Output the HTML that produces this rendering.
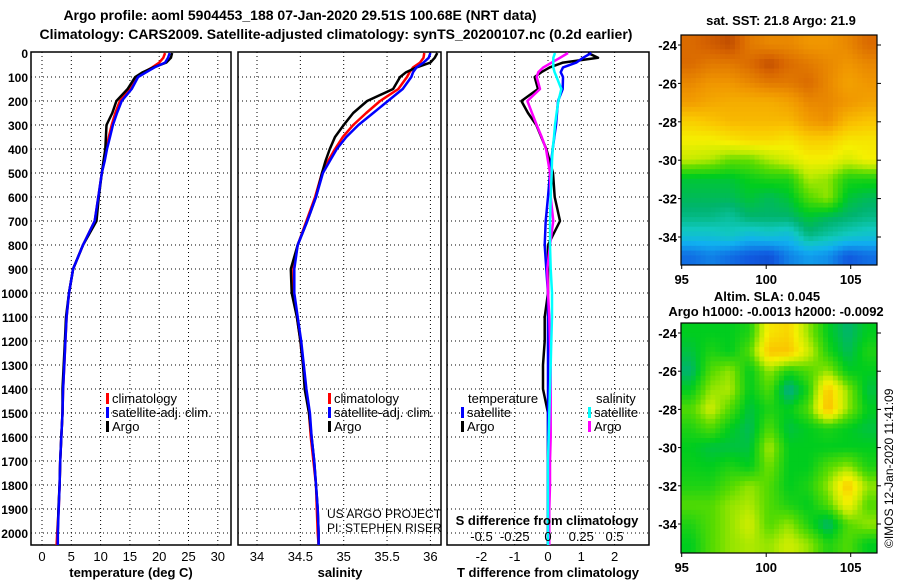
<!DOCTYPE html>
<html><head><meta charset="utf-8"><style>
body{margin:0;background:#fff;}
svg{display:block;font-family:"Liberation Sans",Arial,sans-serif;}
</style></head><body>
<svg id="fig" width="900" height="580" viewBox="0 0 900 580">
<text x="300" y="20" text-anchor="middle" font-weight="bold" font-size="14">Argo profile: aoml 5904453_188 07-Jan-2020 29.51S 100.68E (NRT data)</text>
<text x="336" y="39" text-anchor="middle" font-weight="bold" font-size="14">Climatology: CARS2009. Satellite-adjusted climatology: synTS_20200107.nc (0.2d earlier)</text>
<g id="g"></g>
</svg>
<script>
const depths=[0,20,40,60,80,100,150,200,250,300,350,400,450,500,600,700,800,900,1000,1100,1200,1300,1400,1500,1600,1700,1800,1900,2000,2050];
const tempClim=[21.0,20.7,20.0,18.8,17.4,16.2,15.0,13.3,12.5,11.9,11.4,11.0,10.6,10.2,9.6,9.0,7.0,5.3,4.6,4.2,4.0,3.8,3.6,3.5,3.3,3.1,3.0,2.85,2.6,2.5];
const tempSat=[21.8,21.5,21.0,19.2,17.8,16.4,15.3,13.6,12.8,12.1,11.6,11.1,10.7,10.2,9.6,9.0,7.0,5.3,4.6,4.2,4.0,3.8,3.6,3.5,3.3,3.1,3.0,2.85,2.7,2.7];
const tempArgo=[22.2,22.0,21.2,19.0,17.2,15.9,14.6,12.7,12.0,11.0,10.9,10.8,10.5,10.2,9.7,9.3,7.0,5.3,4.6,4.1,3.9,3.7,3.5,3.5,3.3,3.1,3.0,2.8,2.7,2.7];
const salClim=[35.93,35.92,35.88,35.80,35.76,35.73,35.63,35.42,35.26,35.11,34.99,34.90,34.82,34.75,34.67,34.57,34.47,34.42,34.42,34.46,34.50,34.53,34.56,34.60,34.62,34.65,34.68,34.69,34.70,34.71];
const salSat=[36.0,35.98,35.92,35.84,35.80,35.78,35.68,35.51,35.34,35.17,35.03,34.92,34.84,34.76,34.68,34.58,34.47,34.43,34.43,34.47,34.51,34.54,34.57,34.61,34.63,34.66,34.68,34.70,34.71,34.71];
const salArgo=[36.08,36.05,36.0,35.84,35.72,35.65,35.57,35.27,35.11,35.0,34.90,34.84,34.79,34.75,34.68,34.58,34.47,34.39,34.40,34.46,34.50,34.53,34.55,34.60,34.63,34.66,34.68,34.70,34.71,34.71];
const dTsat=[1.3,1.05,0.85,0.45,0.38,0.45,0.44,0.3,0.27,0.24,0.19,0.14,0.1,0.06,0.0,-0.07,-0.1,-0.05,0,0,0,0,0,0,0,0,0,0,0,0];
const dTargo=[1.2,1.5,0.45,0.05,-0.2,-0.4,-0.3,-0.8,-0.6,-0.35,-0.2,-0.05,0.05,0.15,0.2,0.36,0,0,0,-0.1,-0.1,-0.15,-0.15,0,0,0,0,0,0,0];
const dSsat=[0.053,0.04,0.04,0.04,0.05,0.065,0.1,0.078,0.065,0.053,0.045,0.035,0.03,0.028,0.02,0.015,0.015,0.02,0.03,0.03,0.025,0.02,0.015,0.01,0.005,0.0,0.0,0.0,0.0,0.0];
const dSargo=[0.15,0.09,0.028,-0.035,-0.073,-0.085,-0.06,-0.155,-0.12,-0.085,-0.047,-0.015,0.0,0.015,0.02,0.04,0.015,-0.005,0.0,0.01,0.015,0.02,0.02,0.02,0.02,0.015,0.015,0.01,0.01,0.01];
const depthTicks=[0,100,200,300,400,500,600,700,800,900,1000,1100,1200,1300,1400,1500,1600,1700,1800,1900,2000];
const tempTicks=[0,5,10,15,20,25,30];
const salTicks=[34,34.5,35,35.5,36];
const salTickLabels=["34","34.5","35","35.5","36"];
const dTTicks=[-2,-1,0,1,2];
const dSTicks=[-0.5,-0.25,0,0.25,0.5];
const dSTickLabels=["-0.5","-0.25","0","0.25","0.5"];
const lonTicks=[95,100,105];
const latTicks=[-24,-26,-28,-30,-32,-34];
const sstGrid=[
[0.92,0.94,0.96,0.9,0.88,0.88,0.86,0.86,0.88,0.92],
[0.92,0.9,0.9,0.92,0.96,0.92,0.9,0.88,0.86,0.88],
[0.88,0.86,0.86,0.88,0.9,0.9,0.92,0.88,0.84,0.86],
[0.85,0.83,0.82,0.82,0.82,0.84,0.88,0.88,0.86,0.84],
[0.76,0.78,0.8,0.8,0.8,0.8,0.85,0.87,0.8,0.78],
[0.7,0.7,0.72,0.74,0.74,0.72,0.76,0.76,0.72,0.72],
[0.64,0.62,0.57,0.57,0.62,0.66,0.7,0.7,0.66,0.7],
[0.45,0.45,0.45,0.48,0.5,0.5,0.62,0.6,0.5,0.5],
[0.42,0.42,0.42,0.45,0.42,0.45,0.55,0.6,0.45,0.42],
[0.38,0.38,0.36,0.4,0.4,0.4,0.45,0.42,0.4,0.38],
[0.3,0.3,0.32,0.28,0.3,0.28,0.38,0.35,0.32,0.3],
[0.15,0.18,0.15,0.12,0.1,0.18,0.22,0.2,0.12,0.15]];
const slaGrid=[
[0.47,0.47,0.47,0.5,0.72,0.75,0.6,0.47,0.4,0.47],
[0.44,0.5,0.47,0.55,0.78,0.78,0.65,0.5,0.42,0.5],
[0.4,0.55,0.6,0.47,0.6,0.5,0.55,0.6,0.47,0.47],
[0.47,0.6,0.62,0.47,0.55,0.37,0.5,0.78,0.6,0.44],
[0.55,0.65,0.55,0.44,0.5,0.47,0.55,0.8,0.6,0.47],
[0.5,0.55,0.47,0.42,0.55,0.44,0.47,0.5,0.47,0.44],
[0.47,0.44,0.44,0.44,0.62,0.47,0.47,0.47,0.47,0.47],
[0.48,0.47,0.5,0.47,0.58,0.47,0.47,0.55,0.6,0.5],
[0.5,0.5,0.55,0.6,0.55,0.47,0.5,0.6,0.78,0.6],
[0.55,0.55,0.6,0.62,0.55,0.5,0.47,0.55,0.7,0.55],
[0.5,0.55,0.6,0.65,0.55,0.6,0.5,0.4,0.55,0.6],
[0.47,0.55,0.6,0.62,0.6,0.65,0.6,0.5,0.55,0.47]];

const NS="http://www.w3.org/2000/svg";
const G=document.getElementById('g');
function mk(tag,attrs,parent,txt){const e=document.createElementNS(NS,tag);for(const k in attrs)e.setAttribute(k,attrs[k]);if(txt!==undefined)e.textContent=txt;(parent||G).appendChild(e);return e;}
const PT=52,PB=545;
const yD=d=>53+d*0.24;
const xT=t=>42+t*5.86;
const xS=s=>257+(s-34)*86.7;
const xdT=t=>548+t*33.3;
const xdS=s=>548+s*133;

function panel(name,x0,x1,vt,xf){
  const g=mk('g',{});
  
  
  depthTicks.forEach(d=>{const y=yD(d);if(y>PT+1&&y<PB)mk('line',{x1:x0,x2:x1,y1:y,y2:y,stroke:'#000','stroke-width':1,'stroke-dasharray':'1,3'},g);});
  vt.forEach(v=>{const x=xf(v);mk('line',{x1:x,x2:x,y1:PT,y2:PB,stroke:'#000','stroke-width':1,'stroke-dasharray':'1,3'},g);});
  const r=mk('rect',{x:x0,y:PT,width:x1-x0,height:PB-PT,fill:'none',stroke:'#000','stroke-width':1.5},g);
  
  
  return g;
}
function line(g,name,xs,xf,color,w){
  let d='';xs.forEach((v,i)=>{d+=(i?'L':'M')+xf(v).toFixed(1)+','+yD(depths[i]).toFixed(1);});
  const p=mk('path',{d:d,fill:'none',stroke:color,'stroke-width':w||2.5,'stroke-linejoin':'round'},g);
  
  
}
function txt(x,y,s,opt,name){
  const t=mk('text',Object.assign({x:x,y:y,'font-size':13,'font-weight':'bold'},opt||{}),G,s);
  
  
  return t;
}
const p1=panel('temperature-panel',31,231,tempTicks,xT);
line(p1,'temp-climatology-line',tempClim,xT,'#f00');
line(p1,'temp-argo-line',tempArgo,xT,'#000');
line(p1,'temp-satellite-line',tempSat,xT,'#00f');
depthTicks.forEach(d=>txt(28,yD(d)+5,String(d),{'text-anchor':'end','font-size':12},'depth-tick-label'));
tempTicks.forEach(v=>txt(xT(v),561,String(v),{'text-anchor':'middle','font-weight':'normal'},'temp-tick-label'));
txt(131,577,'temperature (deg C)',{'text-anchor':'middle'},'x-axis-title-temperature');
const p2=panel('salinity-panel',238,441,salTicks,xS);
line(p2,'sal-climatology-line',salClim,xS,'#f00');
line(p2,'sal-argo-line',salArgo,xS,'#000');
line(p2,'sal-satellite-line',salSat,xS,'#00f');
salTicks.forEach((v,i)=>txt(xS(v),561,salTickLabels[i],{'text-anchor':'middle','font-weight':'normal'},'sal-tick-label'));
txt(340,577,'salinity',{'text-anchor':'middle'},'x-axis-title-salinity');
const p3=panel('difference-panel',447,649,dTTicks,xdT);
line(p3,'dT-argo-line',dTargo,xdT,'#000');
line(p3,'dT-satellite-line',dTsat,xdT,'#00f');
line(p3,'dS-argo-line',dSargo,xdS,'#f0f');
line(p3,'dS-satellite-line',dSsat,xdS,'#0ff');
dTTicks.forEach(v=>txt(xdT(v),561,String(v),{'text-anchor':'middle','font-weight':'normal'},'dT-tick-label'));
txt(548,577,'T difference from climatology',{'text-anchor':'middle'},'x-axis-title-T-difference');
txt(547,525,'S difference from climatology',{'text-anchor':'middle'},'s-axis-title');
dSTicks.forEach((v,i)=>txt(xdS(v),541,dSTickLabels[i],{'text-anchor':'middle','font-weight':'normal'},'dS-tick-label'));
function leg(x,y,color,label,name){
  const r=mk('rect',{x:x,y:y-10,width:3,height:11,fill:color});
  
  
  txt(x+6,y,label,{'font-weight':'normal'},name);
}
leg(106,403,'#f00','climatology','legend-climatology');
leg(106,417,'#00f','satellite-adj. clim.','legend-satellite');
leg(106,431,'#000','Argo','legend-argo');
leg(328,403,'#f00','climatology','legend2-climatology');
leg(328,417,'#00f','satellite-adj. clim.','legend2-satellite');
leg(328,431,'#000','Argo','legend2-argo');
txt(468,403,'temperature',{'font-weight':'normal'},'legend-temperature-header');
leg(461,417,'#00f','satellite','legend-dT-satellite');
leg(461,431,'#000','Argo','legend-dT-argo');
txt(596,403,'salinity',{'font-weight':'normal'},'legend-salinity-header');
leg(588,417,'#0ff','satellite','legend-dS-satellite');
leg(588,431,'#f0f','Argo','legend-dS-argo');
const cp=mk('clipPath',{id:'cp2'});mk('rect',{x:238,y:PT,width:203,height:PB-PT},cp);
const t1=mk('text',{x:327,y:518,'font-size':12,'clip-path':'url(#cp2)'},G,'US ARGO PROJECT');


const t2=mk('text',{x:327,y:532,'font-size':12,'clip-path':'url(#cp2)'},G,'PI: STEPHEN RISER');



const stops=[[0,[10,40,160]],[0.12,[16,90,224]],[0.25,[16,176,240]],[0.33,[16,200,190]],[0.4,[0,180,110]],[0.47,[0,205,30]],[0.56,[90,220,0]],[0.63,[190,235,0]],[0.7,[245,240,0]],[0.78,[250,196,0]],[0.86,[240,150,0]],[0.93,[215,100,0]],[1,[165,50,0]]];
function cmap(v){for(let i=1;i<stops.length;i++){if(v<=stops[i][0]){const a=stops[i-1],b=stops[i],f=(v-a[0])/(b[0]-a[0]);const c=a[1].map((x,k)=>Math.round(x+(b[1][k]-x)*f));return 'rgb('+c+')';}}return 'rgb(165,50,0)';}
function sample(grid,fr,fc){
  const R=grid.length,C=grid[0].length;
  fr=Math.max(0,Math.min(R-1,fr));fc=Math.max(0,Math.min(C-1,fc));
  const r0=Math.floor(fr),c0=Math.floor(fc),r1=Math.min(R-1,r0+1),c1=Math.min(C-1,c0+1),a=fr-r0,b=fc-c0;
  return grid[r0][c0]*(1-a)*(1-b)+grid[r0][c1]*(1-a)*b+grid[r1][c0]*a*(1-b)+grid[r1][c1]*a*b;
}
function map(name,grid,top,bot,lat24y,lat34y){
  const x0=681,x1=877,S=4;
  const g=mk('g',{});
  
  
  const rows=grid.length*S,cols=grid[0].length*S,cw=(x1-x0)/cols,ch=(bot-top)/rows;
  for(let r=0;r<rows;r++)for(let c=0;c<cols;c++){
    const v=sample(grid,(r+0.5)/S-0.5,(c+0.5)/S-0.5);
    const cell=mk('rect',{x:(x0+c*cw).toFixed(2),y:(top+r*ch).toFixed(2),width:(cw+0.5).toFixed(2),height:(ch+0.5).toFixed(2),fill:cmap(v)},g);
    
    
  }
  mk('rect',{x:x0,y:top,width:x1-x0,height:bot-top,fill:'none',stroke:'#000','stroke-width':1.2},g);
  const ly=l=>lat24y+(l+24)/(-10)*(lat34y-lat24y);
  latTicks.forEach(l=>{const y=ly(l);mk('line',{x1:x1,x2:x1+4,y1:y,y2:y,stroke:'#000'},g);mk('line',{x1:x0-3,x2:x0,y1:y,y2:y,stroke:'#000'},g);txt(677,y+5,String(l),{'text-anchor':'end','font-size':13},name+'-lat-label');});
  lonTicks.forEach(L=>{const x=681.7+(L-95)*16.9;mk('line',{x1:x,x2:x,y1:bot,y2:bot+4,stroke:'#000'},g);txt(x,bot+19,String(L),{'text-anchor':'middle','font-size':13},name+'-lon-label');});
}
txt(781,25,'sat. SST: 21.8 Argo: 21.9',{'text-anchor':'middle','font-size':13},'sst-map-title');
map('sst-map',sstGrid,35,265,45,237);
txt(767,301,'Altim. SLA: 0.045',{'text-anchor':'middle','font-size':13},'sla-map-title');
txt(776,316,'Argo h1000: -0.0013 h2000: -0.0092',{'text-anchor':'middle','font-size':13},'sla-argo-heights');
map('sla-map',slaGrid,323,553,333,524);
const im=mk('text',{x:0,y:0,'font-size':12,transform:'translate(893,548) rotate(-90)'},G,'©IMOS 12-Jan-2020 11:41:09');


</script>
</body></html>
